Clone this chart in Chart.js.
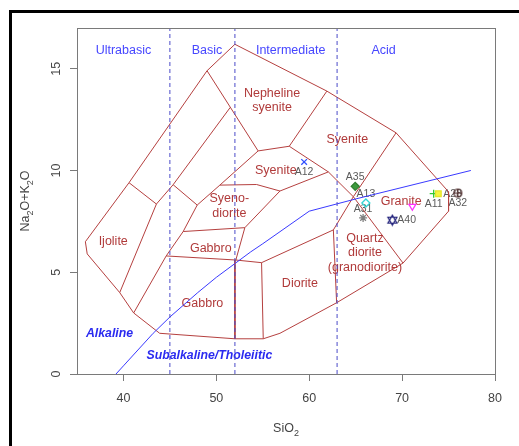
<!DOCTYPE html>
<html>
<head>
<meta charset="utf-8">
<script src="https://cdn.jsdelivr.net/npm/chart.js@4.4.1/dist/chart.umd.min.js"></script>
<style>
  html, body { margin: 0; padding: 0; background: #fff; }
</style>
</head>
<body>
<canvas id="tas" width="519" height="446"></canvas>
<script>
const xTicks = [40, 50, 60, 70, 80];
const yTicks = [0, 5, 10, 15];

// field boundaries, [SiO2, Na2O+K2O]
const outerBoundary = [[35.9, 6.5], [40.6, 9.4], [49.0, 14.9], [52.0, 16.2], [61.9, 13.9], [69.35, 11.85],
  [75.0, 8.95], [75.0, 8.0], [70.1, 5.45], [62.95, 3.5], [56.85, 2.0], [55.05, 1.73], [52.0, 1.73],
  [43.9, 2.0], [41.1, 3.0], [39.6, 4.0], [36.1, 5.9], [35.9, 6.5]];
const ijoliteEdge = [[40.6, 9.4], [43.55, 8.35], [39.6, 4.0]];
const foidEdge = [[43.55, 8.35], [45.35, 9.3], [51.5, 13.1]];
const syeniteEdge = [[49.0, 14.9], [54.5, 10.96], [57.85, 11.19], [62.06, 9.93], [64.75, 8.71], [70.1, 5.45]];
const nephEdge = [[61.9, 13.9], [57.85, 11.19]];
const graniteEdge = [[69.35, 11.85], [64.75, 8.71], [62.6, 7.08], [62.95, 3.5]];
const foidBase = [[45.35, 9.3], [47.94, 8.3]];
const gabbroCurve = [[41.1, 3.0], [44.6, 5.8], [46.43, 7.0], [47.94, 8.3], [50.38, 9.28], [54.5, 10.96]];
const syenodioriteTop = [[50.38, 9.28], [54.33, 9.31], [56.85, 8.99], [62.06, 9.93]];
const syenodioriteEdge = [[56.85, 8.99], [53.07, 7.19], [46.43, 7.0]];
const gabbroEdge = [[53.07, 7.19], [52.1, 5.6]];
const dioriteTop = [[44.6, 5.8], [52.1, 5.6], [54.87, 5.47], [62.6, 7.08]];
const edge52 = [[52.0, 5.6], [52.0, 1.73]];
const edge55 = [[54.87, 5.47], [55.05, 1.73]];
const boundaries = [outerBoundary, ijoliteEdge, foidEdge, syeniteEdge, nephEdge, graniteEdge, foidBase,
  gabbroCurve, syenodioriteTop, syenodioriteEdge, gabbroEdge, dioriteTop, edge52, edge55];

// silica divisions and Irvine & Baragar alkaline line
const silicaDivisions = [45, 52, 63];
const alkSiO2 = [39.2, 40, 43.2, 45, 48, 50, 53.7, 55, 60, 65, 77.4];
const alkTotal = [0, 0.4, 2, 2.8, 4, 4.75, 6, 6.4, 8, 8.6, 10];

// samples
const sampleNames = ['A12', 'A35', 'A13', 'A31', 'A40', '', 'A11', 'A28', 'A32'];
const sampleSiO2 = [59.45, 64.95, 66.1, 65.8, 68.95, 71.1, 73.4, 73.9, 76.0];
const sampleAlk = [10.42, 9.22, 8.4, 7.67, 7.56, 8.24, 8.86, 8.86, 8.89];
const labelPos = ['below', 'above', 'above', 'above', 'right', '', 'below', 'right', 'below'];

// text labels
const groupNames = ['Ultrabasic', 'Basic', 'Intermediate', 'Acid'];
const groupSiO2 = [40, 49, 58, 68];
const fieldNames = ['Nepheline', 'syenite', 'Syenite', 'Syenite', 'Syeno-', 'diorite', 'Gabbro', 'Ijolite',
  'Gabbro', 'Diorite', 'Quartz', 'diorite', '(granodiorite)', 'Granite'];
const fieldSiO2 = [56, 56, 64.1, 56.4, 51.4, 51.4, 49.4, 38.9, 48.5, 59, 66, 66, 66, 69.9];
const fieldAlk = [13.8, 13.1, 11.5, 10.0, 8.6, 7.9, 6.14, 6.49, 3.45, 4.44, 6.65, 5.95, 5.24, 8.48];
const seriesNames = ['Alkaline', 'Subalkaline/Tholeiitic'];
const seriesSiO2 = [38.5, 49.25];
const seriesAlk = [1.98, 0.91];

const FONT = '"Liberation Sans", Arial, sans-serif';
const fieldColor = '#b5403f';

function marker(size, draw) {
  const c = document.createElement('canvas');
  c.width = c.height = size;
  const g = c.getContext('2d');
  draw(g, size / 2);
  return c;
}
const oplus = marker(11, (g, m) => {
  g.strokeStyle = '#4e2b2b'; g.lineWidth = 1.2;
  g.beginPath();
  g.arc(m, m, 4, 0, 2 * Math.PI);
  g.moveTo(m - 4, m); g.lineTo(m + 4, m);
  g.moveTo(m, m - 4); g.lineTo(m, m + 4);
  g.stroke();
});
const davidStar = marker(13, (g, m) => {
  g.strokeStyle = '#20207a'; g.lineWidth = 1.2;
  g.beginPath();
  g.moveTo(m, m - 5); g.lineTo(m + 4.5, m + 3); g.lineTo(m - 4.5, m + 3); g.closePath();
  g.moveTo(m, m + 5); g.lineTo(m + 4.5, m - 3); g.lineTo(m - 4.5, m - 3); g.closePath();
  g.stroke();
});

const sampleStyle = ['crossRot', 'rectRot', 'rectRot', 'star', davidStar, 'triangle', 'cross', 'rect', oplus];
const sampleColor = ['#3050ff', '#2f7d2f', '#35d5d5', '#808080', '#20207a', '#ff30ff', '#30c830', '#e6e62a', '#4e2b2b'];
const sampleFill = ['transparent', '#3c9a3c', 'transparent', 'transparent', 'transparent', 'transparent', 'transparent', '#f6f640', 'transparent'];
const sampleRot = [0, 0, 0, 0, 0, 180, 0, 0, 0];

const datasets = [];
boundaries.forEach(b => datasets.push({
  data: b.map(([x, y]) => ({ x, y })),
  showLine: true, borderColor: fieldColor, borderWidth: 1, pointRadius: 0, fill: false, order: 3
}));
silicaDivisions.forEach(s => datasets.push({
  data: [{ x: s, y: 0 }, { x: s, y: 17 }],
  showLine: true, borderColor: '#4b4bc8', borderWidth: 1, borderDash: [4, 3], pointRadius: 0, order: 2
}));
datasets.push({
  data: alkSiO2.map((x, i) => ({ x, y: alkTotal[i] })),
  showLine: true, borderColor: '#3a3aff', borderWidth: 1, pointRadius: 0, order: 2
});
datasets.push({
  data: sampleSiO2.map((x, i) => ({ x, y: sampleAlk[i] })),
  pointStyle: sampleStyle, pointBorderColor: sampleColor, pointBackgroundColor: sampleFill,
  pointRotation: sampleRot, pointRadius: 4, pointBorderWidth: 1.3, order: 0
});

function richText(ctx, parts, size) {
  // parts: [text, isSubscript]
  const widths = parts.map(([t, sub]) => {
    ctx.font = (sub ? size * 0.72 : size) + 'px ' + FONT;
    return ctx.measureText(t).width;
  });
  let x = -widths.reduce((a, b) => a + b, 0) / 2;
  parts.forEach(([t, sub], i) => {
    ctx.font = (sub ? size * 0.72 : size) + 'px ' + FONT;
    ctx.fillText(t, x, sub ? size * 0.3 : 0);
    x += widths[i];
  });
}

const tasPlugin = {
  id: 'tasPlugin',
  beforeDraw(chart) {
    const ctx = chart.ctx;
    ctx.save();
    ctx.fillStyle = '#fff';
    ctx.fillRect(0, 0, chart.width, chart.height);
    ctx.fillStyle = '#000';
    ctx.fillRect(9, 10, chart.width - 9, 3);
    ctx.fillRect(9, 10, 3, chart.height - 10);
    ctx.restore();
  },
  beforeDatasetsDraw(chart) {
    const { ctx, scales: { x, y } } = chart;
    ctx.save();
    ctx.textAlign = 'center';
    ctx.textBaseline = 'middle';

    ctx.fillStyle = '#4646ff';
    ctx.font = '12.5px ' + FONT;
    groupNames.forEach((t, i) => ctx.fillText(t, x.getPixelForValue(groupSiO2[i]), y.getPixelForValue(15.9)));

    ctx.fillStyle = '#b03a3a';
    fieldNames.forEach((t, i) => ctx.fillText(t, x.getPixelForValue(fieldSiO2[i]), y.getPixelForValue(fieldAlk[i])));

    ctx.fillStyle = '#2a2af0';
    ctx.font = 'italic bold 12.3px ' + FONT;
    seriesNames.forEach((t, i) => ctx.fillText(t, x.getPixelForValue(seriesSiO2[i]), y.getPixelForValue(seriesAlk[i])));

    ctx.fillStyle = '#5a5a5a';
    ctx.font = '10.5px ' + FONT;
    sampleNames.forEach((t, i) => {
      if (!t) return;
      const px = x.getPixelForValue(sampleSiO2[i]);
      const py = y.getPixelForValue(sampleAlk[i]);
      if (labelPos[i] === 'right') {
        ctx.textAlign = 'left';
        ctx.fillText(t, px + 5, py);
      } else {
        ctx.textAlign = 'center';
        ctx.fillText(t, px, labelPos[i] === 'above' ? py - 9 : py + 10);
      }
    });
    ctx.restore();
  },
  afterDraw(chart) {
    const { ctx, chartArea: a, scales: { x, y } } = chart;
    ctx.save();
    ctx.strokeStyle = '#7a7a7a';
    ctx.lineWidth = 1;
    ctx.strokeRect(a.left + 0.5, a.top + 0.5, a.right - a.left, a.bottom - a.top);

    // y tick labels, rotated as in base R graphics
    ctx.fillStyle = '#444';
    ctx.font = '12.5px ' + FONT;
    ctx.textAlign = 'center';
    ctx.textBaseline = 'middle';
    yTicks.forEach(v => {
      ctx.save();
      ctx.translate(57, y.getPixelForValue(v));
      ctx.rotate(-Math.PI / 2);
      ctx.fillText(String(v), 0, 0);
      ctx.restore();
    });

    ctx.textAlign = 'left';
    ctx.textBaseline = 'alphabetic';
    ctx.save();
    ctx.translate((a.left + a.right) / 2, 432);
    richText(ctx, [['SiO', false], ['2', true]], 12.5);
    ctx.restore();

    ctx.save();
    ctx.translate(29, (a.top + a.bottom) / 2);
    ctx.rotate(-Math.PI / 2);
    richText(ctx, [['Na', false], ['2', true], ['O+K', false], ['2', true], ['O', false]], 12.5);
    ctx.restore();
    ctx.restore();
  }
};

new Chart(document.getElementById('tas'), {
  type: 'scatter',
  data: { datasets },
  options: {
    responsive: false,
    animation: false,
    devicePixelRatio: 1,
    layout: { padding: { left: 0, right: 24, top: 28, bottom: 0 } },
    plugins: { legend: { display: false }, tooltip: { enabled: false } },
    scales: {
      x: {
        type: 'linear', min: 35, max: 80,
        afterBuildTicks: s => { s.ticks = xTicks.map(v => ({ value: v })); },
        afterFit: s => { s.height = 72; },
        grid: { drawOnChartArea: false, drawTicks: true, tickLength: 7, color: '#7a7a7a' },
        border: { display: false },
        ticks: { color: '#444', font: { size: 12.5, family: FONT }, padding: 10, maxRotation: 0 }
      },
      y: {
        type: 'linear', min: 0, max: 17,
        afterBuildTicks: s => { s.ticks = yTicks.map(v => ({ value: v })); },
        afterFit: s => { s.width = 77; },
        grid: { drawOnChartArea: false, drawTicks: true, tickLength: 7, color: '#7a7a7a' },
        border: { display: false },
        ticks: { display: false }
      }
    }
  },
  plugins: [tasPlugin]
});
</script>
</body>
</html>
